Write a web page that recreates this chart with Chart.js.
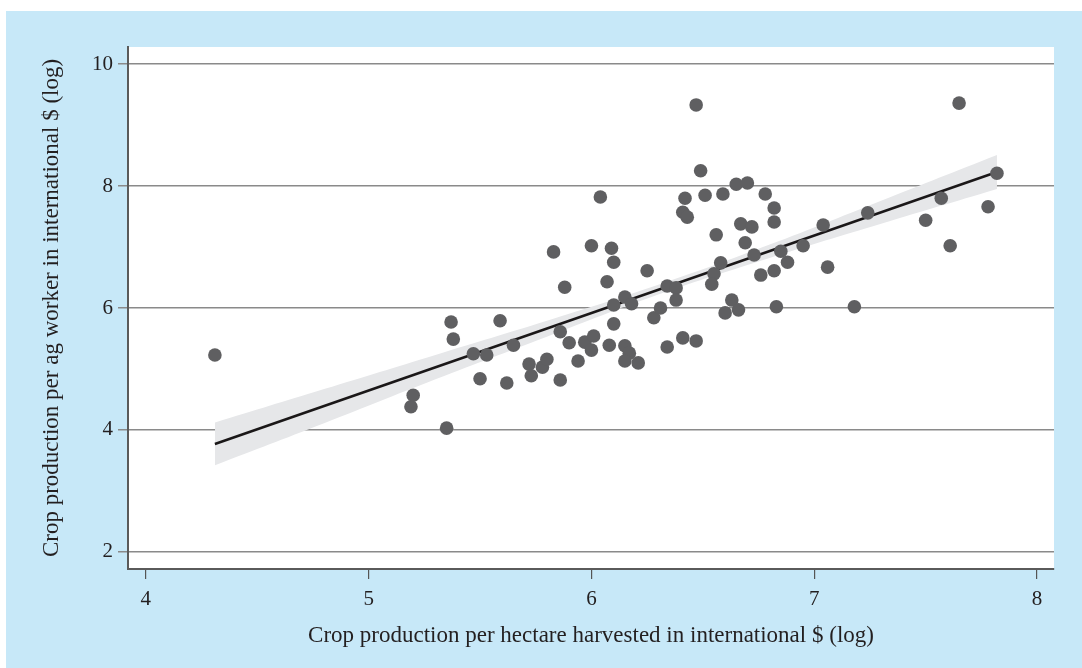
<!DOCTYPE html>
<html><head><meta charset="utf-8">
<script src="https://cdn.jsdelivr.net/npm/chart.js@4/dist/chart.umd.min.js"></script>
<style>html,body{margin:0;padding:0;background:#fff;}canvas{display:block;}</style>
</head><body>
<canvas id="c" width="1082" height="668" style="width:1082px;height:668px"></canvas>
<script>
// Data
const hectareLog = [4.31,5.20,5.19,5.35,5.37,5.38,5.47,5.53,5.50,5.59,5.65,5.62,5.72,5.73,5.78,5.80,5.86,5.86,5.88,5.83,
  5.90,5.97,5.94,6.01,6.00,6.00,6.04,6.09,6.10,6.07,6.08,6.10,6.10,6.15,6.18,6.15,6.17,6.15,6.21,6.25,
  6.28,6.31,6.34,6.38,6.38,6.34,6.41,6.47,6.47,6.49,6.42,6.51,6.59,6.65,6.70,6.78,6.41,6.43,6.82,6.82,
  6.67,6.72,6.56,6.69,7.04,6.95,6.85,6.73,6.88,6.58,7.06,6.55,6.54,6.76,6.82,6.63,6.60,6.66,6.83,7.18,
  7.24,7.50,7.57,7.61,7.65,7.78,7.82];
const workerLog = [5.23,4.57,4.38,4.03,5.77,5.49,5.25,5.23,4.84,5.79,5.39,4.77,5.08,4.89,5.03,5.16,4.82,5.61,6.34,6.92,
  5.43,5.44,5.13,5.54,5.31,7.02,7.82,6.98,6.75,6.43,5.39,5.74,6.05,6.18,6.07,5.38,5.26,5.13,5.10,6.61,
  5.84,6.00,6.36,6.33,6.13,5.36,5.51,5.46,9.33,8.25,7.80,7.85,7.87,8.03,8.05,7.87,7.57,7.49,7.64,7.41,
  7.38,7.33,7.20,7.07,7.36,7.02,6.93,6.87,6.75,6.74,6.67,6.56,6.39,6.54,6.61,6.13,5.92,5.97,6.02,6.02,
  7.56,7.44,7.80,7.02,9.36,7.66,8.21];
const fitX = [4.31, 7.82];
const fitY = [3.77, 8.23];
const bandX  = [4.31, 4.8, 5.3, 5.8, 6.3, 6.8, 7.3, 7.82];
const bandHi = [4.12, 4.67, 5.23, 5.79, 6.38, 7.04, 7.76, 8.51];
const bandLo = [3.42, 4.11, 4.83, 5.53, 6.22, 6.82, 7.38, 7.95];
const xTickValues = [4, 5, 6, 7, 8];
const yTickValues = [2, 4, 6, 8, 10];
const xTitle = "Crop production per hectare harvested in international $ (log)";
const yTitle = "Crop production per ag worker in international $ (log)";

const pts = hectareLog.map((x, i) => ({x: x, y: workerLog[i]}));
const fitPts = fitX.map((x, i) => ({x: x, y: fitY[i]}));
const hiPts = bandX.map((x, i) => ({x: x, y: bandHi[i]}));
const loPts = bandX.map((x, i) => ({x: x, y: bandLo[i]}));

const FONT = "'Liberation Serif', 'Times New Roman', serif";
const TEXT = '#231f20';

const bgPlugin = {
  id: 'bg',
  beforeDraw(chart) {
    const {ctx, chartArea: a, width, height} = chart;
    ctx.save();
    ctx.fillStyle = '#ffffff';
    ctx.fillRect(0, 0, width, height);
    ctx.fillStyle = '#c7e8f8';
    ctx.fillRect(6, 11, width - 6, height - 11);
    ctx.fillStyle = '#ffffff';
    ctx.fillRect(a.left, a.top, a.right - a.left, a.bottom - a.top);
    ctx.restore();
  }
};

new Chart(document.getElementById('c'), {
  type: 'scatter',
  data: {
    datasets: [
      {type: 'line', data: hiPts, borderWidth: 0, pointRadius: 0, fill: '+1',
       backgroundColor: '#e6e7e9', borderColor: 'rgba(0,0,0,0)', order: 4, tension: 0.4},
      {type: 'line', data: loPts, borderWidth: 0, pointRadius: 0, fill: false,
       borderColor: 'rgba(0,0,0,0)', order: 4, tension: 0.4},
      {type: 'line', data: fitPts, borderWidth: 2.5, pointRadius: 0, fill: false,
       borderColor: '#1a1718', order: 2},
      {type: 'scatter', data: pts, pointRadius: 6.8, pointHoverRadius: 6.8, borderWidth: 0,
       backgroundColor: '#5f5f61', order: 1}
    ]
  },
  options: {
    responsive: false,
    animation: false,
    events: [],
    layout: {padding: {top: 47, right: 28, left: 0, bottom: 0}},
    plugins: {legend: {display: false}, tooltip: {enabled: false}},
    scales: {
      x: {
        type: 'linear', min: 3.92, max: 8.076,
        afterBuildTicks: s => { s.ticks = xTickValues.map(v => ({value: v})); },
        afterFit: s => { s.height = 99; },
        grid: {drawOnChartArea: false, drawTicks: true, tickLength: 10, color: '#555', lineWidth: 1.2},
        border: {display: true, color: '#5a5a5a', width: 2},
        ticks: {color: TEXT, font: {family: FONT, size: 21}, padding: 8, maxRotation: 0},
        title: {display: true, text: xTitle, color: TEXT, font: {family: FONT, size: 23},
                padding: {top: 0, bottom: 18}}
      },
      y: {
        type: 'linear', min: 1.72, max: 10.28,
        afterBuildTicks: s => { s.ticks = yTickValues.map(v => ({value: v})); },
        afterFit: s => { s.width = 128; },
        grid: {drawOnChartArea: true, drawTicks: true, tickLength: 10, color: '#8a8a8a', lineWidth: 1.5},
        border: {display: true, color: '#5a5a5a', width: 2},
        ticks: {color: TEXT, font: {family: FONT, size: 21}, padding: 5},
        title: {display: true, text: yTitle, color: TEXT, font: {family: FONT, size: 23},
                padding: {top: 38, bottom: 0}}
      }
    }
  },
  plugins: [bgPlugin]
});
</script>
</body></html>
